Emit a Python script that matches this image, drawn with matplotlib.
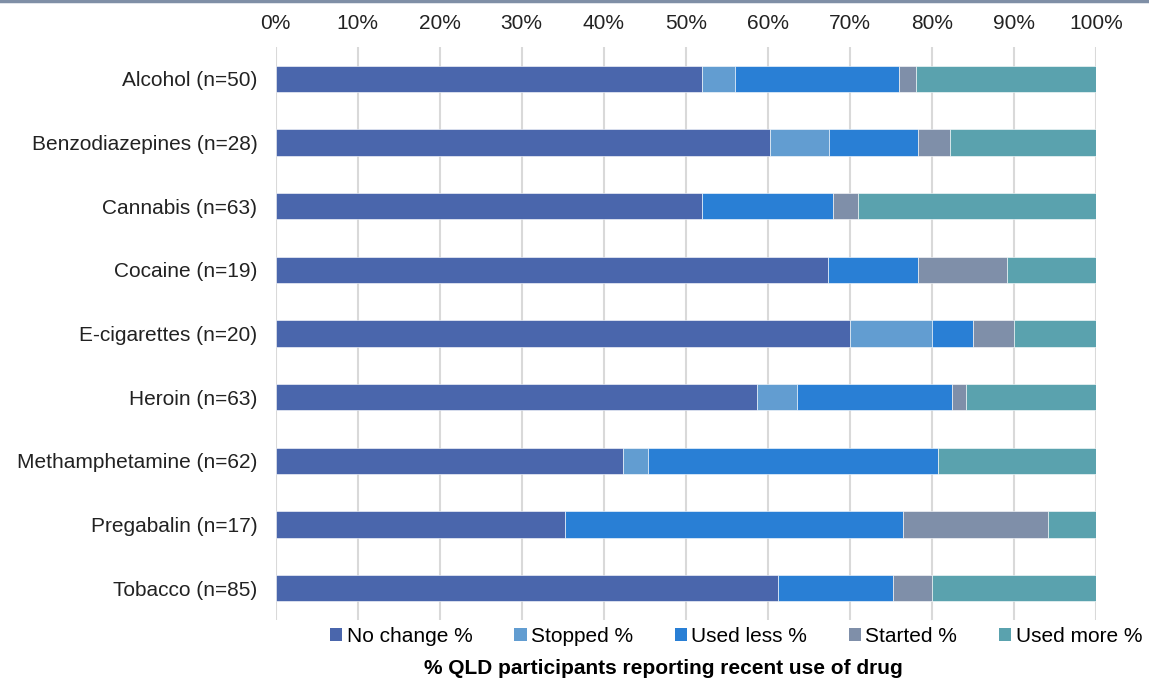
import matplotlib
matplotlib.use("Agg")
import matplotlib.pyplot as plt
from matplotlib.patches import Patch
from matplotlib.lines import Line2D
from matplotlib.ticker import PercentFormatter

plt.rcParams['font.family'] = ['Liberation Sans', 'DejaVu Sans']

# datos
drogas = ['Alcohol (n=50)', 'Benzodiazepines (n=28)', 'Cannabis (n=63)',
          'Cocaine (n=19)', 'E-cigarettes (n=20)', 'Heroin (n=63)',
          'Methamphetamine (n=62)', 'Pregabalin (n=17)', 'Tobacco (n=85)']
series = ['No change %', 'Stopped %', 'Used less %', 'Started %', 'Used more %']
sin_cambio = [52.0, 60.3, 52.0, 67.3, 70.0, 58.7, 42.4, 35.3, 61.2]
dejo = [4.0, 7.1, 0.0, 0.0, 10.0, 4.8, 3.0, 0.0, 0.0]
uso_menos = [20.0, 10.9, 16.0, 11.0, 5.0, 19.0, 35.3, 41.2, 14.1]
empezo = [2.0, 3.9, 3.0, 10.9, 5.0, 1.6, 0.0, 17.6, 4.7]
uso_mas = [22.0, 17.8, 29.0, 10.8, 10.0, 15.9, 19.3, 5.9, 20.0]
colores = ['#4a66ac', '#629dd1', '#297fd5', '#7f8fa9', '#5aa2ae']

valores = [sin_cambio, dejo, uso_menos, empezo, uso_mas]

fig = plt.figure(figsize=(11.49, 6.82), dpi=100)
ax = fig.add_axes([0.2398, 0.0909, 0.7141, 0.8402])

# barras apiladas
izquierda = [0.0] * len(drogas)
for nombre, vals, col in zip(series, valores, colores):
    ax.barh(drogas, vals, left=izquierda, height=0.41, color=col,
            edgecolor='white', linewidth=0.4, label=nombre, zorder=3)
    izquierda = [a + b for a, b in zip(izquierda, vals)]

ax.set_xlim(0, 100)
ax.set_ylim(8.5, -0.5)
ax.set_xticks(range(0, 101, 10))
ax.xaxis.set_major_formatter(PercentFormatter(decimals=0))
ax.xaxis.tick_top()
ax.tick_params(axis='both', length=0, labelsize=15, colors='#222222')
ax.tick_params(axis='y', pad=13)
ax.tick_params(axis='x', pad=10)
ax.grid(axis='x', color='#d9d9d9', linewidth=1.5, zorder=0)
for s in ax.spines.values():
    s.set_visible(False)

# leyenda abajo
handles = [Patch(facecolor=c, edgecolor='none') for c in colores]
fig.legend(handles, series, loc='center', bbox_to_anchor=(0.6406, 0.0674),
           ncol=5, frameon=False, fontsize=15, handlelength=0.6,
           handleheight=0.6, handletextpad=0.2, columnspacing=2.0,
           borderaxespad=0)

fig.text(0.577, 0.0205, '% QLD participants reporting recent use of drug',
         ha='center', va='center', fontsize=15, fontweight='bold')

# linea superior
fig.add_artist(Line2D([0, 1], [0.998, 0.998], color='#7f8fa6', linewidth=2.5,
                      transform=fig.transFigure))

fig.savefig('out.png', dpi=100)
